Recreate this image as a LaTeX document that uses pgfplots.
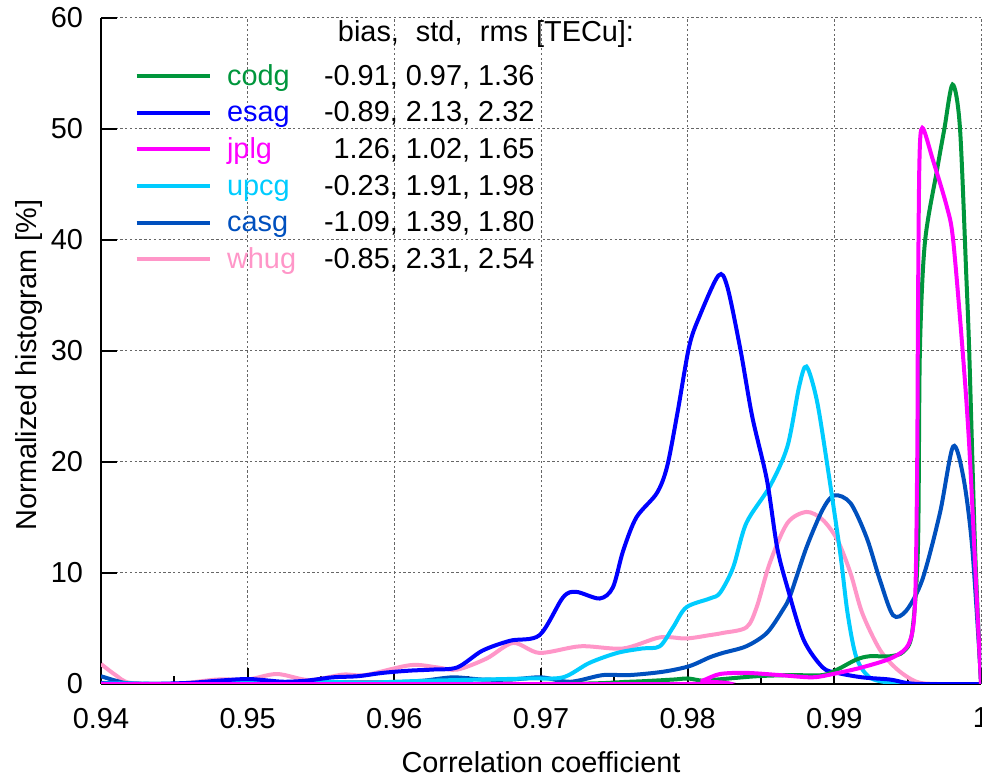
\documentclass[border=0pt]{standalone}
\usepackage{pgfplots}
\pgfplotsset{compat=1.18}
\usepackage{fontspec}
\setmainfont{Liberation Sans}
\definecolor{codg}{RGB}{0,150,60}
\definecolor{esag}{RGB}{0,0,255}
\definecolor{jplg}{RGB}{255,0,255}
\definecolor{upcg}{RGB}{0,204,255}
\definecolor{casg}{RGB}{0,80,190}
\definecolor{whug}{RGB}{255,150,200}

\pgfplotstableread{
x y
0.9400 0.0
0.9700 0.0
0.9760 0.2
0.9790 0.4
0.9800 0.5
0.9810 0.3
0.9820 0.4
0.9847 0.7
0.9870 0.8
0.9892 0.8
0.9902 1.3
0.9915 2.2
0.9924 2.5
0.9938 2.5
0.9947 2.9
0.9953 4.6
0.9957 12.3
0.99583 29.8
0.99617 39.7
0.9970 46.3
0.9975 50.0
0.99806 54.0
0.99856 50.2
0.9990 36.7
0.9992 29.8
0.9996 12.0
1.0000 0.0
}\codg

\pgfplotstableread{
x y
0.9400 0.05
0.9430 0.0
0.9460 0.1
0.9480 0.3
0.9500 0.45
0.9515 0.3
0.9525 0.2
0.9540 0.3
0.9558 0.6
0.9575 0.7
0.9592 1.0
0.9610 1.2
0.9626 1.3
0.9643 1.5
0.9660 3.0
0.9679 3.9
0.9699 4.4
0.9715 7.8
0.9724 8.3
0.9740 7.7
0.9749 8.7
0.9756 12.0
0.9765 15.0
0.9779 17.2
0.9786 19.6
0.9793 24.4
0.9801 30.4
0.9808 33.1
0.9821 36.8
0.9827 35.8
0.9836 30.1
0.9844 24.1
0.9854 18.4
0.9861 12.3
0.9868 8.7
0.9879 4.0
0.9892 1.5
0.9902 1.0
0.9919 0.6
0.9938 0.4
0.9949 0.1
0.9960 0.0
1.0000 0.0
}\esag

\pgfplotstableread{
x y
0.9400 0.0
0.9800 0.0
0.9810 0.3
0.9822 0.9
0.9840 1.0
0.9863 0.8
0.9885 0.6
0.9899 0.9
0.9919 1.5
0.9940 2.4
0.9951 3.7
0.9955 7.3
0.99565 20.0
0.9957 33.0
0.9958 47.0
0.9960 50.1
0.9967 47.3
0.99767 43.0
0.9981 40.0
0.99876 29.8
0.9992 21.4
0.9997 8.0
1.0000 0.0
}\jplg

\pgfplotstableread{
x y
0.9400 0.1
0.9450 0.0
0.9500 0.1
0.9550 0.2
0.9580 0.1
0.9600 0.2
0.9624 0.3
0.9660 0.4
0.9692 0.5
0.9715 0.6
0.9733 1.9
0.9752 2.8
0.9769 3.2
0.9781 3.4
0.9790 5.1
0.9799 6.9
0.9815 7.7
0.9822 8.2
0.9831 10.5
0.9840 14.5
0.9856 17.8
0.9868 21.4
0.9876 26.8
0.9881 28.6
0.9888 25.6
0.9895 19.9
0.9904 11.8
0.9909 6.4
0.9915 2.4
0.9924 0.6
0.9938 0.1
0.9950 0.0
1.0000 0.0
}\upcg

\pgfplotstableread{
x y
0.9400 0.7
0.9410 0.3
0.9420 0.05
0.9450 0.0
0.9500 0.1
0.9550 0.15
0.9600 0.15
0.9620 0.3
0.9640 0.6
0.9660 0.4
0.9680 0.4
0.9700 0.6
0.9720 0.2
0.9742 0.8
0.9760 0.8
0.9783 1.1
0.9801 1.6
0.9815 2.4
0.9824 2.8
0.9840 3.4
0.9854 4.6
0.9865 6.7
0.9870 8.0
0.9881 12.3
0.9892 15.7
0.9900 17.0
0.9911 16.3
0.9922 13.2
0.9931 9.4
0.9940 6.2
0.9949 6.6
0.9960 9.4
0.9972 15.4
0.9981 21.4
0.9988 18.6
0.9994 12.3
1.0000 0.4
}\casg

\pgfplotstableread{
x y
0.9400 1.8
0.9410 0.8
0.9420 0.1
0.9450 0.0
0.9479 0.4
0.9500 0.4
0.9520 0.9
0.9542 0.35
0.9565 0.85
0.9580 0.8
0.9611 1.7
0.9629 1.5
0.9643 1.3
0.9663 2.3
0.9681 3.7
0.9699 2.8
0.9727 3.4
0.9756 3.2
0.9781 4.2
0.9799 4.1
0.9815 4.4
0.9824 4.6
0.9840 5.1
0.9847 6.9
0.9856 10.9
0.9868 14.5
0.9881 15.5
0.9892 14.8
0.9902 13.0
0.9911 10.0
0.9919 6.4
0.9931 3.1
0.9943 1.3
0.9956 0.2
0.9970 0.0
1.0000 0.0
}\whug

\begin{document}
\fontsize{14.5}{17}\selectfont
\begin{tikzpicture}
\begin{axis}[name=ax,
  scale only axis, width=440bp, height=333bp,
  xmin=0.94, xmax=1.0, ymin=0, ymax=60,
  axis lines*=left, axis line style={-, line width=1.3bp, black},
  xtick={0.94,0.95,0.96,0.97,0.98,0.99,1},
  xticklabels={0.94,0.95,0.96,0.97,0.98,0.99,1},
  minor xtick={0.945,0.955,0.965,0.975,0.985,0.995},
  ytick={0,10,20,30,40,50,60},
  scaled x ticks=false,
  tick align=inside, major tick length=8bp, minor tick length=4bp,
  tick style={black, line width=1.1bp},
  grid=major,
  major grid style={black!60, dash pattern=on 1.2bp off 1.2bp, line width=0.5bp},
  /pgf/number format/assume math mode=true,
  xticklabel style={yshift=-7bp},
  yticklabel style={xshift=-4bp},
  xlabel={Correlation coefficient},
  ylabel={Normalized histogram [\%]},
  xlabel style={at={(rel axis cs:0.5,0)}, anchor=center, yshift=-39bp},
  ylabel style={at={(rel axis cs:0,0.5)}, anchor=center, xshift=-7bp, yshift=36bp},
  every axis plot/.append style={line width=2bp, smooth, tension=0.5},
]
\addplot[whug] table {\whug};
\addplot[casg] table {\casg};
\addplot[upcg] table {\upcg};
\addplot[esag] table {\esag};
\addplot[codg] table {\codg};
\addplot[jplg] table {\jplg};

\node[anchor=base west] at (axis cs:0.955474,57.84) {bias,};
\node[anchor=base west] at (axis cs:0.960791,57.84) {std,};
\node[anchor=base west] at (axis cs:0.965153,57.84) {rms [TECu]:};

\draw[codg, line width=2bp] (axis cs:0.942433,54.80) -- (axis cs:0.947430,54.80);
\draw[esag, line width=2bp] (axis cs:0.942433,51.47) -- (axis cs:0.947430,51.47);
\draw[jplg, line width=2bp] (axis cs:0.942433,48.17) -- (axis cs:0.947430,48.17);
\draw[upcg, line width=2bp] (axis cs:0.942433,44.86) -- (axis cs:0.947430,44.86);
\draw[casg, line width=2bp] (axis cs:0.942433,41.56) -- (axis cs:0.947430,41.56);
\draw[whug, line width=2bp] (axis cs:0.942433,38.26) -- (axis cs:0.947430,38.26);

\node[anchor=base west, text=codg, inner sep=0pt] at (axis cs:0.948568,53.96) {codg};
\node[anchor=base west, text=esag, inner sep=0pt] at (axis cs:0.948568,50.66) {esag};
\node[anchor=base west, text=jplg, inner sep=0pt] at (axis cs:0.948568,47.36) {jplg};
\node[anchor=base west, text=upcg, inner sep=0pt] at (axis cs:0.948568,44.05) {upcg};
\node[anchor=base west, text=casg, inner sep=0pt] at (axis cs:0.948568,40.75) {casg};
\node[anchor=base west, text=whug, inner sep=0pt] at (axis cs:0.948568,37.45) {whug};

\node[anchor=base east, inner sep=0pt] at (axis cs:0.96958,53.96) {-0.91, 0.97, 1.36};
\node[anchor=base east, inner sep=0pt] at (axis cs:0.96958,50.66) {-0.89, 2.13, 2.32};
\node[anchor=base east, inner sep=0pt] at (axis cs:0.96958,47.36) {1.26, 1.02, 1.65};
\node[anchor=base east, inner sep=0pt] at (axis cs:0.96958,44.05) {-0.23, 1.91, 1.98};
\node[anchor=base east, inner sep=0pt] at (axis cs:0.96958,40.75) {-1.09, 1.39, 1.80};
\node[anchor=base east, inner sep=0pt] at (axis cs:0.96958,37.45) {-0.85, 2.31, 2.54};
\end{axis}
\pgfresetboundingbox
\path[use as bounding box] ([xshift=-50.5bp,yshift=-46bp]ax.south west) rectangle ([xshift=0.5bp,yshift=9bp]ax.north east);
\end{tikzpicture}
\end{document}
